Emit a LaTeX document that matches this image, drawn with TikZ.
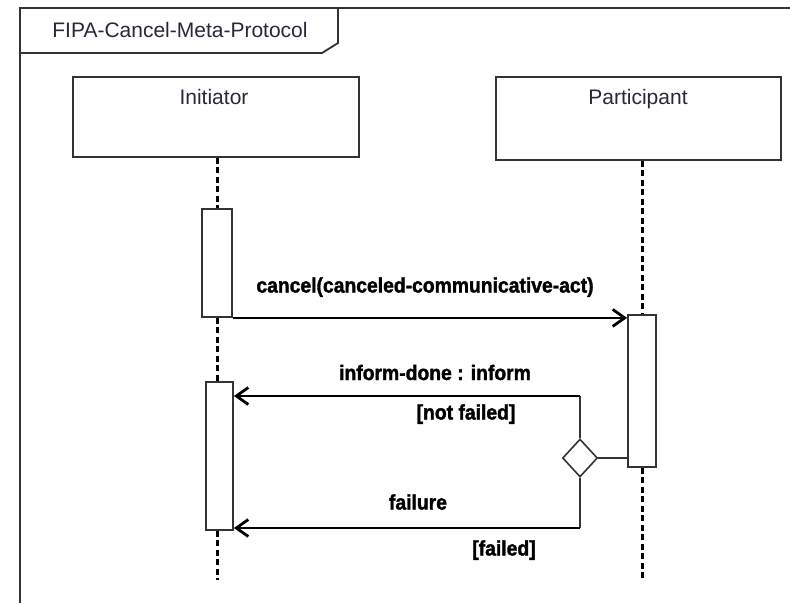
\documentclass[tikz,border=0pt]{standalone}
\usepackage{fontspec}
\setmainfont{Liberation Sans}
\newfontfamily\msgfont[FakeStretch=0.92,FakeBold=1.6]{Liberation Sans}
\usetikzlibrary{arrows.meta,shapes.geometric}

\definecolor{inkgray}{HTML}{333333}
\definecolor{textink}{HTML}{2E2638}

\tikzset{
  framepen/.style={draw=inkgray, line width=1.8pt},
  headbox/.style={draw=inkgray, line width=1.9pt, fill=white, rectangle, inner sep=0pt},
  actbox/.style={draw=inkgray, line width=1.8pt, fill=white, rectangle, inner sep=0pt},
  headtext/.style={text=textink, font=\fontsize{21}{24}\selectfont, inner sep=0pt, anchor=base},
  msgtext/.style={text=black, font=\msgfont\bfseries\fontsize{21}{24}\selectfont, inner sep=0pt, anchor=base},
  lifeline/.style={draw=black, line width=3pt, dash pattern=on 6pt off 3.5pt},
  message/.style={draw=black, line width=2.8pt, -{Straight Barb[length=12pt,width=17pt,line width=2.8pt]}},
  branch/.style={draw=inkgray, line width=1.8pt},
  choice/.style={draw=inkgray, line width=1.6pt, fill=white, diamond, inner sep=0pt,
                 minimum width=35pt, minimum height=38pt},
}

\begin{document}
\begin{tikzpicture}[x=1pt, y=-1pt]
  \useasboundingbox[fill=white] (0,0) rectangle (790,603);

  % diagram frame with its name tab
  \draw[framepen] (20,603) -- (20,8) -- (790,8);
  \draw[framepen] (20,53) -- (322,53) -- (338,43) -- (338,8);
  \node[headtext] (title) at (180,37.5) {FIPA-Cancel-Meta-Protocol};

  % lifeline heads
  \node[headbox, minimum width=286pt, minimum height=80pt] (init) at (216,117) {};
  \node[headtext] (initname) at (214,104.5) {Initiator};
  \node[headbox, minimum width=285pt, minimum height=83pt] (part) at (638.5,118.5) {};
  \node[headtext] (partname) at (638,104.5) {Participant};

  % activation bars
  \node[actbox, minimum width=30pt, minimum height=108pt] (act1) at (217,263) {};
  \node[actbox, minimum width=27pt, minimum height=148pt] (act2) at (219.5,456) {};
  \node[actbox, minimum width=28pt, minimum height=152pt] (pact) at (642,391) {};

  % decision point on the participant side
  \node[choice] (dia) at (580,458) {};
  \coordinate (ifork) at (580,396);
  \coordinate (ffork) at (580,528);

  % lifeline ends
  \coordinate (initend) at (217,580);
  \coordinate (partend) at (642,580);

  % dashed lifelines
  \draw[lifeline] (act1.north |- init.south) -- (act1.north);
  \draw[lifeline] (act1.south) -- (act1.south |- act2.north);
  \draw[lifeline] (act1.south |- act2.south) -- (initend);
  \draw[lifeline] (pact.north |- part.south) -- (pact.north);
  \draw[lifeline] (pact.south) -- (partend);

  % cancel request
  \draw[message] (act1.south east) -- (act1.south east -| pact.west);
  \node[msgtext] (cancellbl) at (425,292.5) {cancel(canceled-communicative-act)};

  % branch from the participant to the decision point
  \draw[branch] (dia.east) -- (dia.east -| pact.west);

  % not failed: inform-done
  \draw[branch] (dia.north) -- (ifork);
  \draw[message] (ifork) -- (ifork -| act2.east);
  \node[msgtext] (informlbl) at (435,380) {inform-done : inform};
  \node[msgtext] (notfailedlbl) at (466,419.5) {[not failed]};

  % failed: failure
  \draw[branch] (dia.south) -- (ffork);
  \draw[message] (ffork) -- (ffork -| act2.east);
  \node[msgtext] (failurelbl) at (418,509.5) {failure};
  \node[msgtext] (failedlbl) at (504,555.5) {[failed]};
\end{tikzpicture}
\end{document}
